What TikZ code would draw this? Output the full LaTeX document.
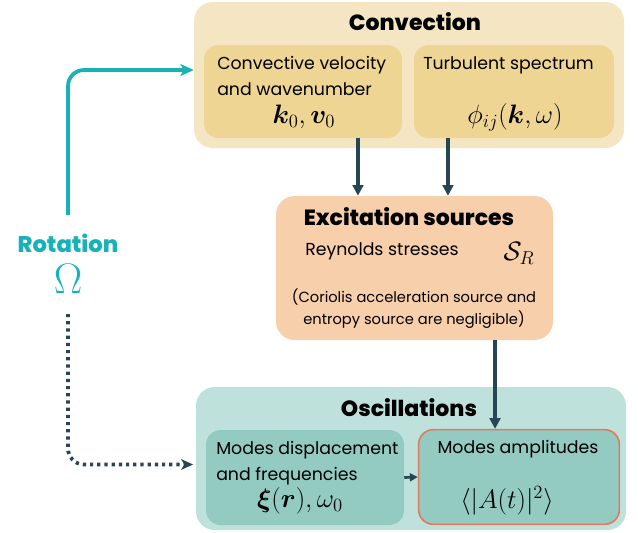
\documentclass[tikz,border=0pt]{standalone}
\usepackage{fix-cm}
\usepackage{fontspec}
\usepackage{bm}
\setmainfont{Poppins}[BoldFont={Poppins ExtraBold}]
\usetikzlibrary{arrows.meta, positioning}
\definecolor{sand}{HTML}{F5E6C3}
\definecolor{mustard}{HTML}{EED593}
\definecolor{peach}{HTML}{F7CFAA}
\definecolor{seafoam}{HTML}{BFE1DC}
\definecolor{jade}{HTML}{93CBC2}
\definecolor{coral}{HTML}{E07A5F}
\definecolor{slate}{HTML}{264653}
\definecolor{teal}{HTML}{17B2B8}

\tikzset{
  panel/.style={fill=#1, rounded corners=14pt, inner sep=0pt},
  card/.style={fill=#1, rounded corners=11pt, inner sep=0pt},
  heading/.style={font=\bfseries\fontsize{16.5}{19}\selectfont, inner sep=0pt},
  body/.style={font=\fontsize{13}{19.5}\selectfont, inner sep=0pt},
  formula/.style={font=\fontsize{20}{22}\selectfont, inner sep=0pt},
  flow/.style={-{Triangle[length=8pt, width=8pt]}, line width=2.6pt, slate},
}

\begin{document}
\begin{tikzpicture}[x=0.75pt, y=-0.75pt]
      \useasboundingbox (0,0) rectangle (638,532);
      \node[panel=sand, minimum width=322.5pt, minimum height=109.5pt] (conv) at (409,75) {};
      \node[heading] (convt) at (415,22) {Convection};
      \node[card=mustard, minimum width=148.5pt, minimum height=69.75pt] (velo) at (303,91.5) {};
      \node[card=mustard, minimum width=150pt, minimum height=69.75pt] (spec) at (514,91.5) {};
      \node[body, anchor=north west, align=left] at (217,56) {Convective velocity\\and wavenumber};
      \node[formula] at (304,117) {$\bm{k}_0, \bm{v}_0$};
      \node[body, anchor=north west] at (423,56) {Turbulent spectrum};
      \node[formula] at (515,117) {$\phi_{ij}(\bm{k}, \omega)$};

      \node[panel=peach, minimum width=207.75pt, minimum height=108pt] (exc) at (414.5,268) {};
      \node[heading] (exct) at (409,217) {Excitation sources};
      \node[body, anchor=west] at (305,251) {Reynolds stresses};
      \node[formula] at (519,253) {$\mathcal{S}_R$};
      \node[body, font=\fontsize{11}{16.5}\selectfont, align=center] at (414,309) {(Coriolis acceleration source and\\entropy source are negligible)};

      \node[panel=seafoam, minimum width=322.5pt, minimum height=107.25pt] (osc) at (411,458.5) {};
      \node[heading] (osct) at (409,408) {Oscillations};
      \node[card=jade, minimum width=148.5pt, minimum height=71.25pt] (disp) at (305,477.5) {};
      \node[card=jade, draw=coral, line width=1.2pt, minimum width=150.5pt, minimum height=71pt] (ampl) at (519,477) {};
      \node[body, anchor=north west, align=left] at (216,441) {Modes displacement\\and frequencies};
      \node[formula] at (300,501) {$\bm{\xi}(\bm{r}), \omega_0$};
      \node[body] at (518,449) {Modes amplitudes};
      \node[formula] at (507,501) {$\langle |A(t)|^2 \rangle$};

      \node[heading, font=\bfseries\fontsize{17}{19}\selectfont, teal] (rot) at (68,243) {Rotation};
      \node[teal, inner sep=0pt, font=\fontsize{32}{34}\selectfont] (omega) at (68,279) {$\Omega$};
      \coordinate (rottop) at (68,215);
      \coordinate (rotbot) at (68,314);

      \draw[flow] ([xshift=-42.4pt]exc.north |- velo.south) -- ([xshift=-42.4pt]exc.north);
      \draw[flow] ([xshift=25.1pt]exc.north |- spec.south) -- ([xshift=25.1pt]exc.north);
      \draw[flow] ([xshift=60.4pt]exc.south) -- ([xshift=60.4pt]exc.south |- ampl.north);
      \draw[flow, line width=2pt, -{Triangle[length=6pt, width=6pt]}] (disp.east) -- (ampl.west);
      \draw[teal, line width=2.8pt, rounded corners=12pt, -{Stealth[length=10pt, width=9pt, inset=2.5pt]}] (rottop) |- ([yshift=3.75pt]conv.west);
      \draw[slate, line width=2.8pt, dash pattern=on 2.4pt off 3pt, rounded corners=12pt, -{Stealth[length=9pt, width=8pt, inset=2.5pt]}] (rotbot) |- ([xshift=-2pt, yshift=-4.5pt]osc.west);
    \end{tikzpicture}
\end{document}
